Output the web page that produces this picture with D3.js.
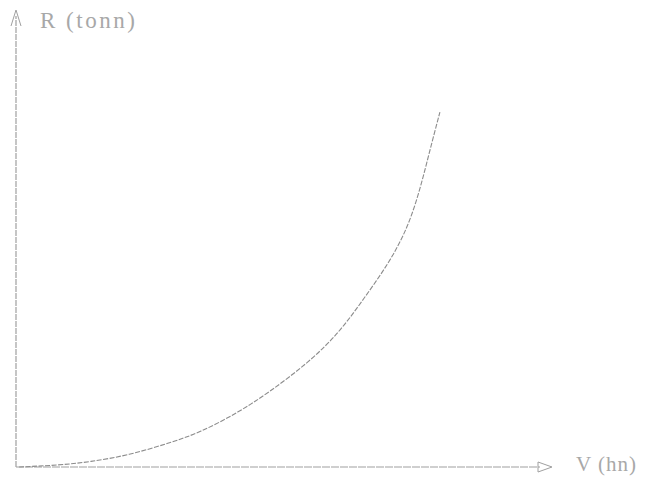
<!DOCTYPE html>
<html><head><meta charset="utf-8">
<script src="https://cdn.jsdelivr.net/npm/d3@7"></script>
<style>html,body{margin:0;padding:0;background:#fff;}</style>
</head><body>
<svg id="c" width="646" height="478"></svg>
<script>
const V = [0.6, 8.2, 14, 21.6, 29.3, 35, 42.6, 48.4, 56, 61.8, 66.2, 71.3, 74.8, 77.1, 79, 80.9];
const R = [0, 0.4, 1.1, 2.6, 5.3, 7.5, 12.1, 16.5, 23.1, 29.7, 36.7, 45, 52.7, 60.9, 69.7, 78];
const xLabel = "V (hn)";
const yLabel = "R (tonn)";

const svg = d3.select("#c");
const x = d3.scaleLinear().domain([0, 100]).range([16, 540]);
const y = d3.scaleLinear().domain([0, 100]).range([467, 12]);
const ink = "#a0a0a0";

// axes
svg.append("line").attr("x1", x(0)).attr("x2", x(0)).attr("y1", y(0)).attr("y2", y(100) + 4)
  .attr("stroke", ink).attr("stroke-width", 1.2).attr("stroke-dasharray", "6,1");
svg.append("line").attr("x1", x(0)).attr("x2", x(100)).attr("y1", y(0)).attr("y2", y(0))
  .attr("stroke", ink).attr("stroke-width", 1.2).attr("stroke-dasharray", "8,1");
// arrowheads
svg.append("path")
  .attr("d", `M${x(0)-5},${y(100)+14} L${x(0)},${y(100)-2} L${x(0)+5},${y(100)+14}`)
  .attr("fill", "none").attr("stroke", ink).attr("stroke-width", 1);
svg.append("path")
  .attr("d", `M${x(100)-2},${y(0)-5} L${x(100)+12},${y(0)} L${x(100)-2},${y(0)+5} Z`)
  .attr("fill", "none").attr("stroke", ink).attr("stroke-width", 1);

// curve
const line = d3.line().x((d, i) => x(V[i])).y((d, i) => y(d)).curve(d3.curveBasis);
svg.append("path").datum(R).attr("d", line)
  .attr("fill", "none").attr("stroke", "#8c8c8c").attr("stroke-width", 1.1)
  .attr("stroke-dasharray", "5,1.5");

// labels
svg.append("text").attr("x", 40).attr("y", 28).text(yLabel)
  .attr("font-family", "Liberation Serif, serif").attr("font-size", 23).attr("letter-spacing", 2.5).attr("fill", "#a8a8a8");
svg.append("text").attr("x", 576).attr("y", 471).text(xLabel)
  .attr("font-family", "Liberation Serif, serif").attr("font-size", 21).attr("letter-spacing", 1).attr("fill", "#a8a8a8");
</script>
</body></html>
